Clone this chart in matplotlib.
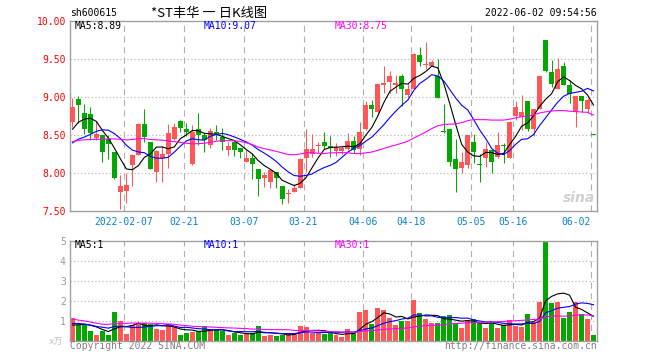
import numpy as np
import matplotlib
matplotlib.use('Agg')
import matplotlib.pyplot as plt

# ---------------- data ----------------
opens = [8.67, 8.974, 8.79, 8.776, 8.456, 8.50, 8.445, 8.28, 7.754, 7.767,
         8.105, 8.237, 8.64, 8.40, 8.017, 8.19, 8.25, 8.45, 8.684, 8.58,
         8.12, 8.58, 8.50, 8.37, 8.544, 8.469, 8.303, 8.40, 8.325, 8.149,
         8.193, 8.053, 7.93, 7.886, 8.009, 7.829, 7.724, 7.754, 7.807, 8.20,
         8.246, 8.36, 8.40, 8.355, 8.29, 8.29, 8.31, 8.42, 8.31, 8.58,
         8.895, 8.80, 9.16, 9.20, 9.16, 9.27, 9.02, 9.105, 9.55, 9.42,
         9.41, 9.28, 8.55, 8.58, 8.18, 8.07, 8.105, 8.40, 8.115, 8.19,
         8.30, 8.215, 8.365, 8.19, 8.75, 8.732, 8.94, 8.575, 8.84, 9.74,
         9.325, 9.105, 9.41, 9.158, 8.80, 9.013, 8.84, 8.50]
highs = [8.98, 9.01, 8.91, 8.86, 8.684, 8.50, 8.50, 8.28, 7.974, 7.995,
         8.25, 8.65, 8.84, 8.40, 8.30, 8.36, 8.64, 8.66, 8.69, 8.65,
         8.63, 8.79, 8.52, 8.59, 8.63, 8.588, 8.41, 8.40, 8.33, 8.30,
         8.26, 8.053, 8.018, 8.04, 8.01, 7.83, 7.785, 7.85, 8.19, 8.58,
         8.513, 8.41, 8.544, 8.48, 8.39, 8.36, 8.52, 8.49, 8.67, 8.95,
         8.96, 9.17, 9.41, 9.34, 9.29, 9.30, 9.17, 9.58, 9.65, 9.715,
         9.48, 9.50, 8.91, 8.58, 8.45, 8.27, 8.50, 8.51, 8.25, 8.40,
         8.30, 8.535, 8.39, 8.68, 8.947, 9.026, 8.94, 8.842, 9.28, 9.75,
         9.49, 9.51, 9.46, 9.22, 9.013, 9.013, 8.98, 8.50]
lows = [8.61, 8.65, 8.51, 8.43, 8.434, 8.14, 8.18, 7.92, 7.53, 7.61,
        7.83, 8.23, 8.40, 8.05, 7.886, 7.88, 8.07, 8.43, 8.54, 8.48,
        8.11, 8.37, 8.27, 8.33, 8.434, 8.30, 8.228, 8.228, 8.20, 8.14,
        7.917, 7.70, 7.82, 7.807, 7.80, 7.588, 7.61, 7.75, 7.80, 8.017,
        8.206, 8.28, 8.31, 8.215, 8.22, 8.25, 8.30, 8.26, 8.24, 8.57,
        8.74, 8.78, 9.05, 9.05, 9.05, 8.88, 9.00, 9.10, 9.41, 9.37,
        9.40, 8.98, 8.53, 8.09, 7.75, 8.00, 8.06, 8.127, 7.88, 8.08,
        8.00, 8.19, 8.127, 8.19, 8.697, 8.566, 8.55, 8.487, 8.84, 9.32,
        9.135, 9.10, 9.15, 8.925, 8.61, 8.807, 8.785, 8.50]
closes = [8.87, 8.886, 8.58, 8.53, 8.513, 8.28, 8.377, 7.93, 7.829, 7.842,
          8.237, 8.64, 8.478, 8.05, 8.29, 8.25, 8.52, 8.60, 8.59, 8.54,
          8.54, 8.50, 8.434, 8.553, 8.513, 8.404, 8.355, 8.303, 8.281, 8.20,
          8.118, 7.917, 7.974, 8.04, 7.939, 7.654, 7.732, 7.807, 8.184, 8.31,
          8.31, 8.368, 8.355, 8.325, 8.335, 8.33, 8.42, 8.30, 8.544, 8.895,
          8.842, 9.17, 9.18, 9.27, 9.175, 9.10, 9.105, 9.566, 9.46, 9.43,
          9.456, 8.99, 8.535, 8.14, 8.05, 8.15, 8.50, 8.28, 8.105, 8.316,
          8.14, 8.368, 8.36, 8.675, 8.864, 8.807, 8.575, 8.842, 9.28, 9.333,
          9.17, 9.368, 9.16, 9.04, 9.013, 8.947, 8.96, 8.50]
volumes = [1.12, 0.78, 0.78, 0.48, 0.28, 0.48, 0.28, 1.45, 0.98, 0.33,
           0.78, 0.87, 0.90, 0.82, 0.60, 0.53, 0.82, 0.70, 0.28, 0.40,
           0.45, 0.50, 0.73, 0.50, 0.53, 0.50, 0.28, 0.40, 0.28, 0.33,
           0.40, 0.73, 0.25, 0.28, 0.23, 0.28, 0.37, 0.40, 0.73, 0.67,
           0.40, 0.40, 0.33, 0.37, 0.28, 0.20, 0.58, 0.37, 1.45, 1.53,
           0.83, 1.63, 1.53, 1.15, 0.78, 0.98, 0.98, 2.03, 1.37, 1.08,
           0.90, 0.90, 1.23, 1.28, 0.83, 0.65, 1.03, 1.07, 0.87, 0.65,
           0.87, 0.65, 0.78, 1.03, 0.75, 0.70, 1.33, 0.95, 1.95, 4.98,
           1.87, 1.95, 1.15, 1.45, 1.95, 1.33, 1.07, 0.28]
# sessions before the visible window (only their moving averages are visible)
prior_closes = [8.30, 8.42, 8.38, 8.45, 8.35, 8.10, 7.98, 8.05, 8.02, 8.05,
                8.35, 8.42, 8.45, 8.40, 8.38, 8.80, 8.92, 8.85, 8.88, 8.80,
                8.40, 8.30, 8.18, 8.10, 8.10, 8.42, 8.38, 8.47, 8.73]
prior_volumes = [2.3, 1.9, 2.2, 2.0, 2.1, 0.45, 0.35, 0.5, 0.3, 0.42,
                 0.95, 0.85, 1.0, 0.9, 0.92, 1.3, 1.2, 1.45, 1.25, 1.35,
                 0.9, 1.05, 0.95, 1.0, 0.88, 0.72, 0.65, 0.75, 0.68]

tick_slots = [9, 19, 29, 39, 49, 57, 67, 74, 87]
tick_labels = ['2022-02-07', '02-21', '03-07', '03-21', '04-06', '04-18',
               '05-05', '05-16', '06-02']
price_ticks = [7.5, 8.0, 8.5, 9.0, 9.5, 10.0]
vol_ticks = [1, 2, 3, 4, 5]
ma_periods = [5, 10, 30]
ma_colors = ['#000000', '#0000ff', '#ff00ff']

title_code = 'sh600615'
title_name = '*ST丰华 一 日K线图'
timestamp = '2022-06-02 09:54:56'
price_ma_labels = ['MA5:8.89', 'MA10:9.07', 'MA30:8.75']
vol_ma_labels = ['MA5:1', 'MA10:1', 'MA30:1']

# ---------------- styling ----------------
RED = '#ff5757'
GREEN = '#00a800'
GRID = '#b0b0b0'
SPINE = '#a0a0a0'
MONO = 'DejaVu Sans Mono'
W, H = 660, 360

def fx(px):
    return px / W

def fy(py):
    return 1 - py / H

def moving_average(values, n):
    arr = np.asarray(values, dtype=float)
    return np.convolve(arr, np.ones(n) / n, mode='valid')

n = len(closes)
x = np.arange(n)
colors = []
for i in range(n):
    if closes[i] > opens[i]:
        colors.append(RED)
    elif closes[i] < opens[i]:
        colors.append(GREEN)
    else:
        prev = closes[i - 1] if i > 0 else prior_closes[-1]
        colors.append(RED if closes[i] >= prev else GREEN)

fig = plt.figure(figsize=(W / 100, H / 100), dpi=100)
ax = fig.add_axes([fx(70), fy(211), fx(527), 190.3 / H])
axv = fig.add_axes([fx(70), fy(340.7), fx(527), 100 / H])

slot_off = 2.5 / 6.0
xmin, xmax = -slot_off, n - slot_off
for a in (ax, axv):
    a.set_xlim(xmin, xmax)
    for sp in a.spines.values():
        sp.set_color(SPINE)
        sp.set_linewidth(1.0)
    for s in tick_slots:
        a.axvline(s - slot_off, color=GRID, lw=0.8, ls=(0, (5.5, 4)), zorder=0)

# ---- price pane ----
ax.set_ylim(price_ticks[0], price_ticks[-1])
for p in price_ticks[1:-1]:
    ax.axhline(p, color=GRID, lw=0.8, ls=(0, (1, 2.2)), zorder=0)

body_w = 5 / 6.0
for i in range(n):
    ax.vlines(x[i], lows[i], highs[i], color=colors[i], lw=0.75, zorder=2)
    bottom = min(opens[i], closes[i])
    height = max(abs(closes[i] - opens[i]), 0.013)
    ax.bar(x[i], height, bottom=bottom, width=body_w, color=colors[i],
           lw=0, zorder=3)

all_closes = prior_closes + closes
for per, col in zip(ma_periods, ma_colors):
    ma = moving_average(all_closes, per)[-n:]
    ax.plot(x, ma, color=col, lw=0.8, zorder=4)

ax.set_yticks(price_ticks)
ax.set_yticklabels(['%.2f' % p for p in price_ticks])
ax.tick_params(axis='y', length=0, pad=3, labelsize=7, labelcolor='#ff0000')
ax.set_xticks([s - slot_off for s in tick_slots])
ax.set_xticklabels(tick_labels)
ax.tick_params(axis='x', length=0, pad=4, labelsize=7, labelcolor='#0a80d0')
for lab in ax.get_yticklabels() + ax.get_xticklabels():
    lab.set_family(MONO)
ax.get_xticklabels()[-1].set_horizontalalignment('right')

ax.text(0.965, 0.07, 'sina', transform=ax.transAxes, ha='center', va='center',
        fontsize=10, color='#d0d0d0', fontweight='bold', style='italic', zorder=1)

# ---- volume pane ----
axv.set_ylim(0, vol_ticks[-1])
for v in vol_ticks[:-1]:
    axv.axhline(v, color=GRID, lw=0.8, ls=(0, (1, 2.2)), zorder=0)
axv.bar(x, volumes, width=body_w, color=colors, lw=0, zorder=2)
all_vols = prior_volumes + volumes
for per, col in zip(ma_periods, ma_colors):
    ma = moving_average(all_vols, per)[-n:]
    axv.plot(x, ma, color=col, lw=0.8, zorder=3)
axv.set_yticks(vol_ticks)
axv.set_yticklabels([str(v) for v in vol_ticks])
axv.tick_params(axis='y', length=0, pad=3, labelsize=7, labelcolor='#999999')
axv.set_xticks([])
for lab in axv.get_yticklabels():
    lab.set_family(MONO)

# ---- texts ----
fig.text(fx(70), fy(13), title_code, ha='left', va='center', fontsize=7,
         family=MONO, color='#000000')
fig.text(fx(209), fy(13), title_name, ha='center', va='center', fontsize=9.5,
         family=['Noto Sans CJK SC', 'DejaVu Sans'], color='#000000')
fig.text(fx(597), fy(13), timestamp, ha='right', va='center', fontsize=7,
         family=MONO, color='#000000')

leg_x = [75, 204, 335]
for lx, lab, col in zip(leg_x, price_ma_labels, ma_colors):
    fig.text(fx(lx), fy(26), lab, ha='left', va='center', fontsize=7,
             family=MONO, color=col)
for lx, lab, col in zip(leg_x, vol_ma_labels, ma_colors):
    fig.text(fx(lx), fy(245.5), lab, ha='left', va='center', fontsize=7,
             family=MONO, color=col)

fig.text(fx(63), fy(342), 'x万', ha='right', va='center', fontsize=6.5,
         family=[MONO, 'Noto Sans CJK SC'], color='#c0c0c0')
fig.text(fx(70), fy(346), 'Copyright 2022 SINA.COM', ha='left', va='center',
         fontsize=7, family=MONO, color='#808080')
fig.text(fx(597), fy(346), 'http://finance.sina.com.cn', ha='right',
         va='center', fontsize=7, family=MONO, color='#808080')

fig.savefig('out.png', dpi=100, facecolor='white')
